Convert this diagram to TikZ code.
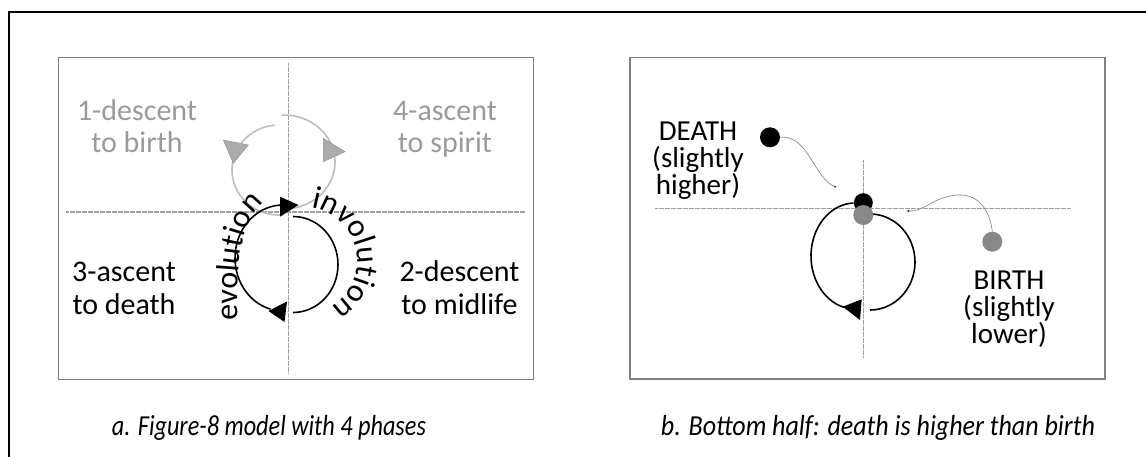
\documentclass[tikz,border=0pt]{standalone}
\usepackage{graphicx}
\usepackage{fontspec}
\setmainfont{Carlito}
\usetikzlibrary{decorations.text}

\definecolor{framegray}{HTML}{808080}
\definecolor{axisgray}{HTML}{A0A0A0}
\definecolor{phasegray}{HTML}{9A9A9A}
\definecolor{ringgray}{HTML}{BDBDBD}
\definecolor{tipgray}{HTML}{ABABAB}
\definecolor{dotgray}{HTML}{888888}
\definecolor{leadgray}{HTML}{8C8C8C}

\newcommand\arcfont{\fontsize{32}{32}\selectfont}
\newcommand\capfont{\fontsize{29}{29}\selectfont\itshape}

\begin{document}
\begin{tikzpicture}[x=1pt,y=1pt,
  panel/.style={draw=framegray, line width=1.1pt},
  axis/.style={draw=axisgray, line width=1.3pt, dash pattern=on 0.7pt off 0.5pt},
  loopline/.style={draw=black, line width=1.6pt},
  ringline/.style={draw=ringgray, line width=1.6pt},
  blacktip/.style={fill=black},
  graytip/.style={fill=tipgray, draw=gray!85, line width=0.5pt},
  phase/.style={align=center, font=\fontsize{30}{32.5}\selectfont, inner sep=0pt},
  tag/.style={align=center, font=\fontsize{29}{27}\selectfont, inner sep=0pt},
  dot/.style={circle, inner sep=0pt, minimum size=20pt},
  leader/.style={draw=leadgray, line width=0.7pt},
  arclabel/.style={decorate, decoration={text along path, text align=fit to path, text={|\arcfont|#1}}},
]
\useasboundingbox (0,0) rectangle (1146,-457);

% outer frame (open on the right and at the bottom)
\draw[line width=2pt] (8.5,-462) -- (8.5,-12) -- (1152,-12);

% ---------- panel a: figure-8 with four phases ----------
\draw[panel] (58.5,-57.7) rectangle (533.7,-379.3);
\draw[axis] (66,-212) -- (525,-212);
\draw[axis] (288.3,-63) -- (288.3,-372.7);

% upper (grey) loop
\draw[ringline] (279,-170) ++(95:47 and 45) arc[start angle=95, end angle=275, x radius=47, y radius=45];
\draw[ringline] (284,-162) ++(93:51 and 47) arc[start angle=93, end angle=-92, x radius=51, y radius=47];
\filldraw[graytip] (223.3,-140) -- (248.3,-145) -- (233.3,-163.3) -- cycle;
\filldraw[graytip] (323.3,-138.3) -- (345,-151.7) -- (323.3,-161.7) -- cycle;

% lower (black) loop
\draw[loopline] (283,-258) ++(255:48 and 53) arc[start angle=255, end angle=90, x radius=48, y radius=53];
\draw[loopline] (293,-264.5) ++(90:45 and 48) arc[start angle=90, end angle=-90, x radius=45, y radius=48];
\fill[blacktip] (280,-196.7) -- (298.5,-205) -- (280,-216.7) -- cycle;
\fill[blacktip] (268.5,-311) -- (287,-301.5) -- (284.5,-322) -- cycle;

% curved words round the lower loop
\begingroup
\arcfont
\path[arclabel=evolution] (237,-320) .. controls (238,-270) and (237,-224) .. (264,-203);
\path[arclabel=involution] (303,-260.8) ++(81:54) arc[start angle=81, end angle=-59, radius=54];
\endgroup

% phase names (anchored on the baseline of their second line)
\node[phase, text=phasegray, anchor=base] (phaseone) at (137,-153) {1-descent\\to birth};
\node[phase, text=phasegray, anchor=base] (phasefour) at (445,-153) {4-ascent\\to spirit};
\node[phase, anchor=base] (phasethree) at (124,-314) {3-ascent\\to death};
\node[phase, anchor=base] (phasetwo) at (459.5,-314) {2-descent\\to midlife};

% ---------- panel b: bottom half ----------
\draw[panel] (630,-57.7) rectangle (1105,-379);
\draw[axis] (655,-208.3) -- (1071,-208.3);
\draw[axis] (863.3,-160) -- (863.3,-358);

\draw[loopline] (855,-256) ++(256:44 and 53) arc[start angle=256, end angle=92, x radius=44, y radius=53];
\draw[loopline] (870,-262) ++(90:45 and 48) arc[start angle=90, end angle=-90, x radius=45, y radius=48];
\fill[blacktip] (842.7,-306.7) -- (861.7,-299.3) -- (860,-320) -- cycle;

\node[dot, fill=black] (deathdot) at (770,-137.3) {};
\node[dot, fill=dotgray] (birthdot) at (992.3,-241.7) {};
\node[dot, fill=black, minimum size=19pt] (deathpt) at (863.3,-202.7) {};
\node[dot, fill=dotgray] (birthpt) at (863.3,-215) {};

\coordinate (deathend) at (835,-186.7);
\coordinate (birthend) at (908.3,-211);
\draw[leader] (deathdot.east) .. controls (808,-134) and (815,-180) .. (deathend);
\fill[black!75] (deathend) circle (1.2pt);
\draw[leader] (birthend) .. controls (925,-212) and (935,-195) .. (960,-195)
  .. controls (980,-195) and (990,-212) .. (birthdot.north);
\fill[black!75] (birthend) circle (1.2pt);

\node[tag, anchor=base] (deathtag) at (698,-195) {DEATH\\(slightly\\higher)};
\node[tag, anchor=base] (birthtag) at (1009,-343) {BIRTH\\(slightly\\lower)};

% ---------- captions ----------
\node[anchor=base, inner sep=0pt] (capa) at (269,-435)
  {\resizebox{314pt}{\height}{\capfont a. Figure-8 model with 4 phases}};
\node[anchor=base, inner sep=0pt] (capb) at (878,-435)
  {\resizebox{434pt}{\height}{\capfont b. Bottom half: death is higher than birth}};
\end{tikzpicture}
\end{document}
